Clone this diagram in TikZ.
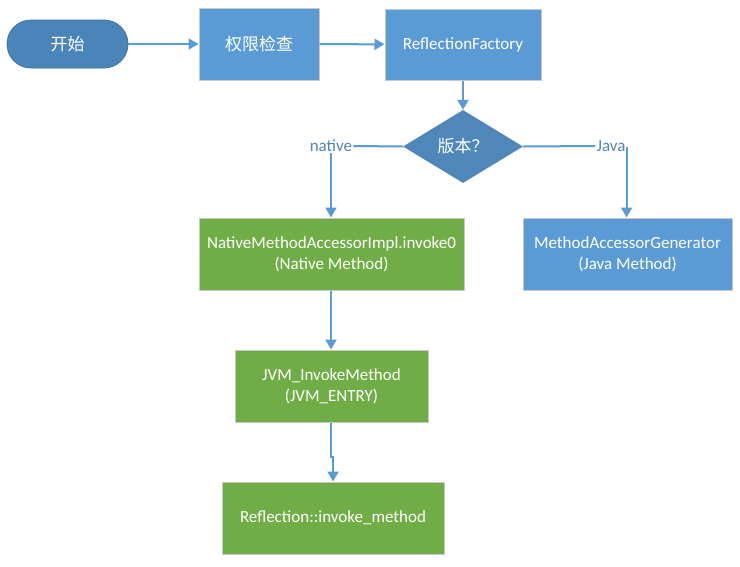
\documentclass[tikz,border=0pt]{standalone}
\usepackage{fontspec}
\setmainfont{Carlito}
\newfontfamily\cjk{Noto Sans CJK SC}
\usepackage{tikz}
\usetikzlibrary{arrows.meta,shapes.geometric,calc}
\definecolor{startblue}{HTML}{4A85BA}
\definecolor{boxblue}{HTML}{5B9BD5}
\definecolor{boxgreen}{HTML}{70AD47}
\definecolor{dblue}{HTML}{4F87BA}
\definecolor{lineblue}{HTML}{5B9BD5}
\definecolor{edgegray}{HTML}{C8C8C8}
\tikzset{
  flowbox/.style={draw=edgegray,line width=1pt,text=white,align=center,
    font=\fontsize{17}{21}\selectfont,inner sep=0pt},
  bluebox/.style={flowbox,fill=boxblue},
  greenbox/.style={flowbox,fill=boxgreen},
  flowline/.style={draw=lineblue,line width=2pt},
  flowarrow/.style={flowline,-{Triangle[length=10pt,width=11pt]}},
  branchlabel/.style={text=dblue,font=\fontsize{17}{19}\selectfont,inner sep=1pt}
}
\begin{document}
\begin{tikzpicture}[x=1pt,y=-1pt]
\useasboundingbox[fill=white](0,0)rectangle(740,566);
%start
\node[fill=startblue,draw=startblue!85!black,line width=.8pt,rounded corners=24pt,
  minimum width=121pt,minimum height=48pt,text=white,
  font=\cjk\fontsize{17}{20}\selectfont](start)at(67.5,44){开始};
%boxes in the top row
\node[bluebox,minimum width=120pt,minimum height=72pt,font=\cjk\fontsize{17}{20}\selectfont](check)at(259,44){权限检查};
\node[bluebox,minimum width=156pt,minimum height=71pt](factory)at(463,44.5){ReflectionFactory};
%decision
\node[diamond,fill=dblue,minimum width=120pt,minimum height=73pt,aspect=1.64,inner sep=0pt,
  text=white,font=\cjk\fontsize{17}{20}\selectfont](ver)at(463,146.5){版本？};
\node[branchlabel](nlab)at(331,146){native};
\node[branchlabel](jlab)at(611,146){Java};
%implementations
\node[greenbox,minimum width=265pt,minimum height=72pt](native)at(331.5,254){NativeMethodAccessorImpl.invoke0\\(Native Method)};
\node[bluebox,minimum width=209pt,minimum height=72pt](javagen)at(627.5,254){MethodAccessorGenerator\\(Java Method)};
\node[greenbox,minimum width=193pt,minimum height=72pt](jvm)at(331.5,386){JVM\_InvokeMethod\\(JVM\_ENTRY)};
\node[greenbox,minimum width=222pt,minimum height=72pt](refl)at(333,518){Reflection::invoke\_method};
%connectors
\draw[flowarrow](start)--(check);
\draw[flowarrow](check)--(factory);
\draw[flowarrow](factory)--(ver);
\draw[flowline](ver.west)--(nlab.east);
\draw[flowarrow](nlab.south)--(native.north-|nlab.south);
\draw[flowline](ver.east)--(jlab.west);
\draw[flowarrow]($(jlab.east)+(0,1)$)--(jlab.east|-javagen.north);
\draw[flowarrow](native.south-|nlab.south)--(jvm.north-|nlab.south);
\coordinate(jog)at(331,457);
\draw[flowarrow](jvm.south-|jog)--(jog)--++(2,0)--(refl.north-|333,0);
\end{tikzpicture}
\end{document}
